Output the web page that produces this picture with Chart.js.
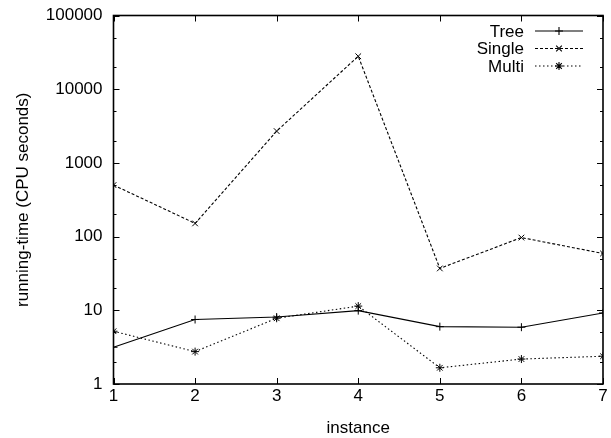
<!DOCTYPE html>
<html>
<head>
<meta charset="utf-8">
<script src="https://cdn.jsdelivr.net/npm/chart.js@4"></script>
<style>
  html, body { margin: 0; padding: 0; background: #fff; }
  #wrap { width: 611px; height: 438px; }
</style>
</head>
<body>
<div id="wrap"><canvas id="runChart" width="611" height="438"></canvas></div>
<script>
const instances = [1, 2, 3, 4, 5, 6, 7];
const treeTimes = [3.15, 7.5, 8.1, 9.9, 6.0, 5.9, 9.2];
const singleTimes = [500, 151, 2700, 28000, 37, 97, 59];
const multiTimes = [5.2, 2.75, 7.8, 11.4, 1.66, 2.18, 2.38];
const yTickValues = [1, 2, 5, 10, 20, 50, 100, 200, 500, 1000, 2000, 5000, 10000, 20000, 50000, 100000];
const seriesNames = ['Tree', 'Single', 'Multi'];

const FONT = 'Liberation Sans, Arial, Helvetica, sans-serif';
const isDecade = v => Math.abs(Math.log10(v) - Math.round(Math.log10(v))) < 1e-9;
const toPoints = ys => instances.map((x, i) => ({x, y: ys[i]}));

// gnuplot style frame, inward ticks and key
const gnuplotFrame = {
  id: 'gnuplotFrame',
  afterDatasetsDraw(chart) {
    const {ctx, chartArea: a, scales} = chart;
    ctx.save();
    ctx.strokeStyle = '#000';
    ctx.lineWidth = 1;
    ctx.setLineDash([]);
    ctx.beginPath();
    scales.y.ticks.forEach(t => {
      const py = Math.round(scales.y.getPixelForValue(t.value)) + 0.5;
      const len = isDecade(t.value) ? 6 : 3;
      ctx.moveTo(a.left, py); ctx.lineTo(a.left + len, py);
      ctx.moveTo(a.right, py); ctx.lineTo(a.right - len, py);
    });
    scales.x.ticks.forEach(t => {
      const px = Math.round(scales.x.getPixelForValue(t.value)) + 0.5;
      ctx.moveTo(px, a.bottom); ctx.lineTo(px, a.bottom - 6);
      ctx.moveTo(px, a.top); ctx.lineTo(px, a.top + 6);
    });
    ctx.stroke();
    ctx.lineWidth = 1.6;
    ctx.strokeRect(a.left, a.top, a.right - a.left, a.bottom - a.top);

    // key
    ctx.font = '17px ' + FONT;
    ctx.textAlign = 'right';
    ctx.textBaseline = 'middle';
    ctx.fillStyle = '#000';
    chart.data.datasets.forEach((ds, i) => {
      const y = 31 + i * 17.5;
      ctx.fillText(ds.label, 524, y + 1);
      ctx.strokeStyle = ds.borderColor;
      ctx.lineWidth = ds.borderWidth;
      ctx.setLineDash(ds.borderDash || []);
      ctx.beginPath();
      ctx.moveTo(535, y); ctx.lineTo(583, y);
      ctx.stroke();
      ctx.setLineDash([]);
      Chart.helpers.drawPoint(ctx, {pointStyle: ds.pointStyle, radius: ds.pointRadius, rotation: 0, borderWidth: 1}, 559, y);
    });
    ctx.restore();
  }
};

const lineStyle = {
  borderColor: '#000',
  backgroundColor: '#000',
  pointBorderColor: '#000',
  pointBorderWidth: 1,
  borderWidth: 1.1,
  pointRadius: 4,
  pointHoverRadius: 4,
  fill: false,
  tension: 0
};

new Chart(document.getElementById('runChart'), {
  type: 'line',
  data: {
    datasets: [
      {...lineStyle, label: seriesNames[0], data: toPoints(treeTimes), pointStyle: 'cross'},
      {...lineStyle, label: seriesNames[1], data: toPoints(singleTimes), pointStyle: 'crossRot', borderDash: [3, 2]},
      {...lineStyle, label: seriesNames[2], data: toPoints(multiTimes), pointStyle: 'star', borderDash: [1.5, 2.5]}
    ]
  },
  options: {
    responsive: false,
    animation: false,
    layout: {padding: {top: 15.5, right: 8, left: 0, bottom: 0}},
    plugins: {
      legend: {display: false},
      tooltip: {enabled: false}
    },
    scales: {
      x: {
        type: 'linear',
        min: 1,
        max: 7,
        grid: {display: false, drawTicks: false},
        border: {display: false},
        ticks: {stepSize: 1, padding: 2, color: '#000', font: {family: FONT, size: 17}},
        title: {display: true, text: 'instance', color: '#000', padding: {top: 0, bottom: 0},
          font: {family: FONT, size: 17, lineHeight: 1.1}},
        afterFit: s => { s.height = 54; s.paddingLeft = 0; s.paddingRight = 0; }
      },
      y: {
        type: 'logarithmic',
        min: 1,
        max: 100000,
        grid: {display: false, drawTicks: false},
        border: {display: false},
        afterBuildTicks: s => { s.ticks = yTickValues.map(v => ({value: v, major: isDecade(v)})); },
        ticks: {
          autoSkip: false,
          padding: 11,
          color: '#000',
          font: {family: FONT, size: 17},
          callback: v => isDecade(v) ? String(v) : ''
        },
        title: {display: true, text: 'running-time (CPU seconds)', color: '#000', padding: {top: 13, bottom: 0},
          font: {family: FONT, size: 17, lineHeight: 1.2}},
        afterFit: s => { s.width = 113.5; s.paddingTop = 0; s.paddingBottom = 0; }
      }
    }
  },
  plugins: [gnuplotFrame]
});
</script>
</body>
</html>
